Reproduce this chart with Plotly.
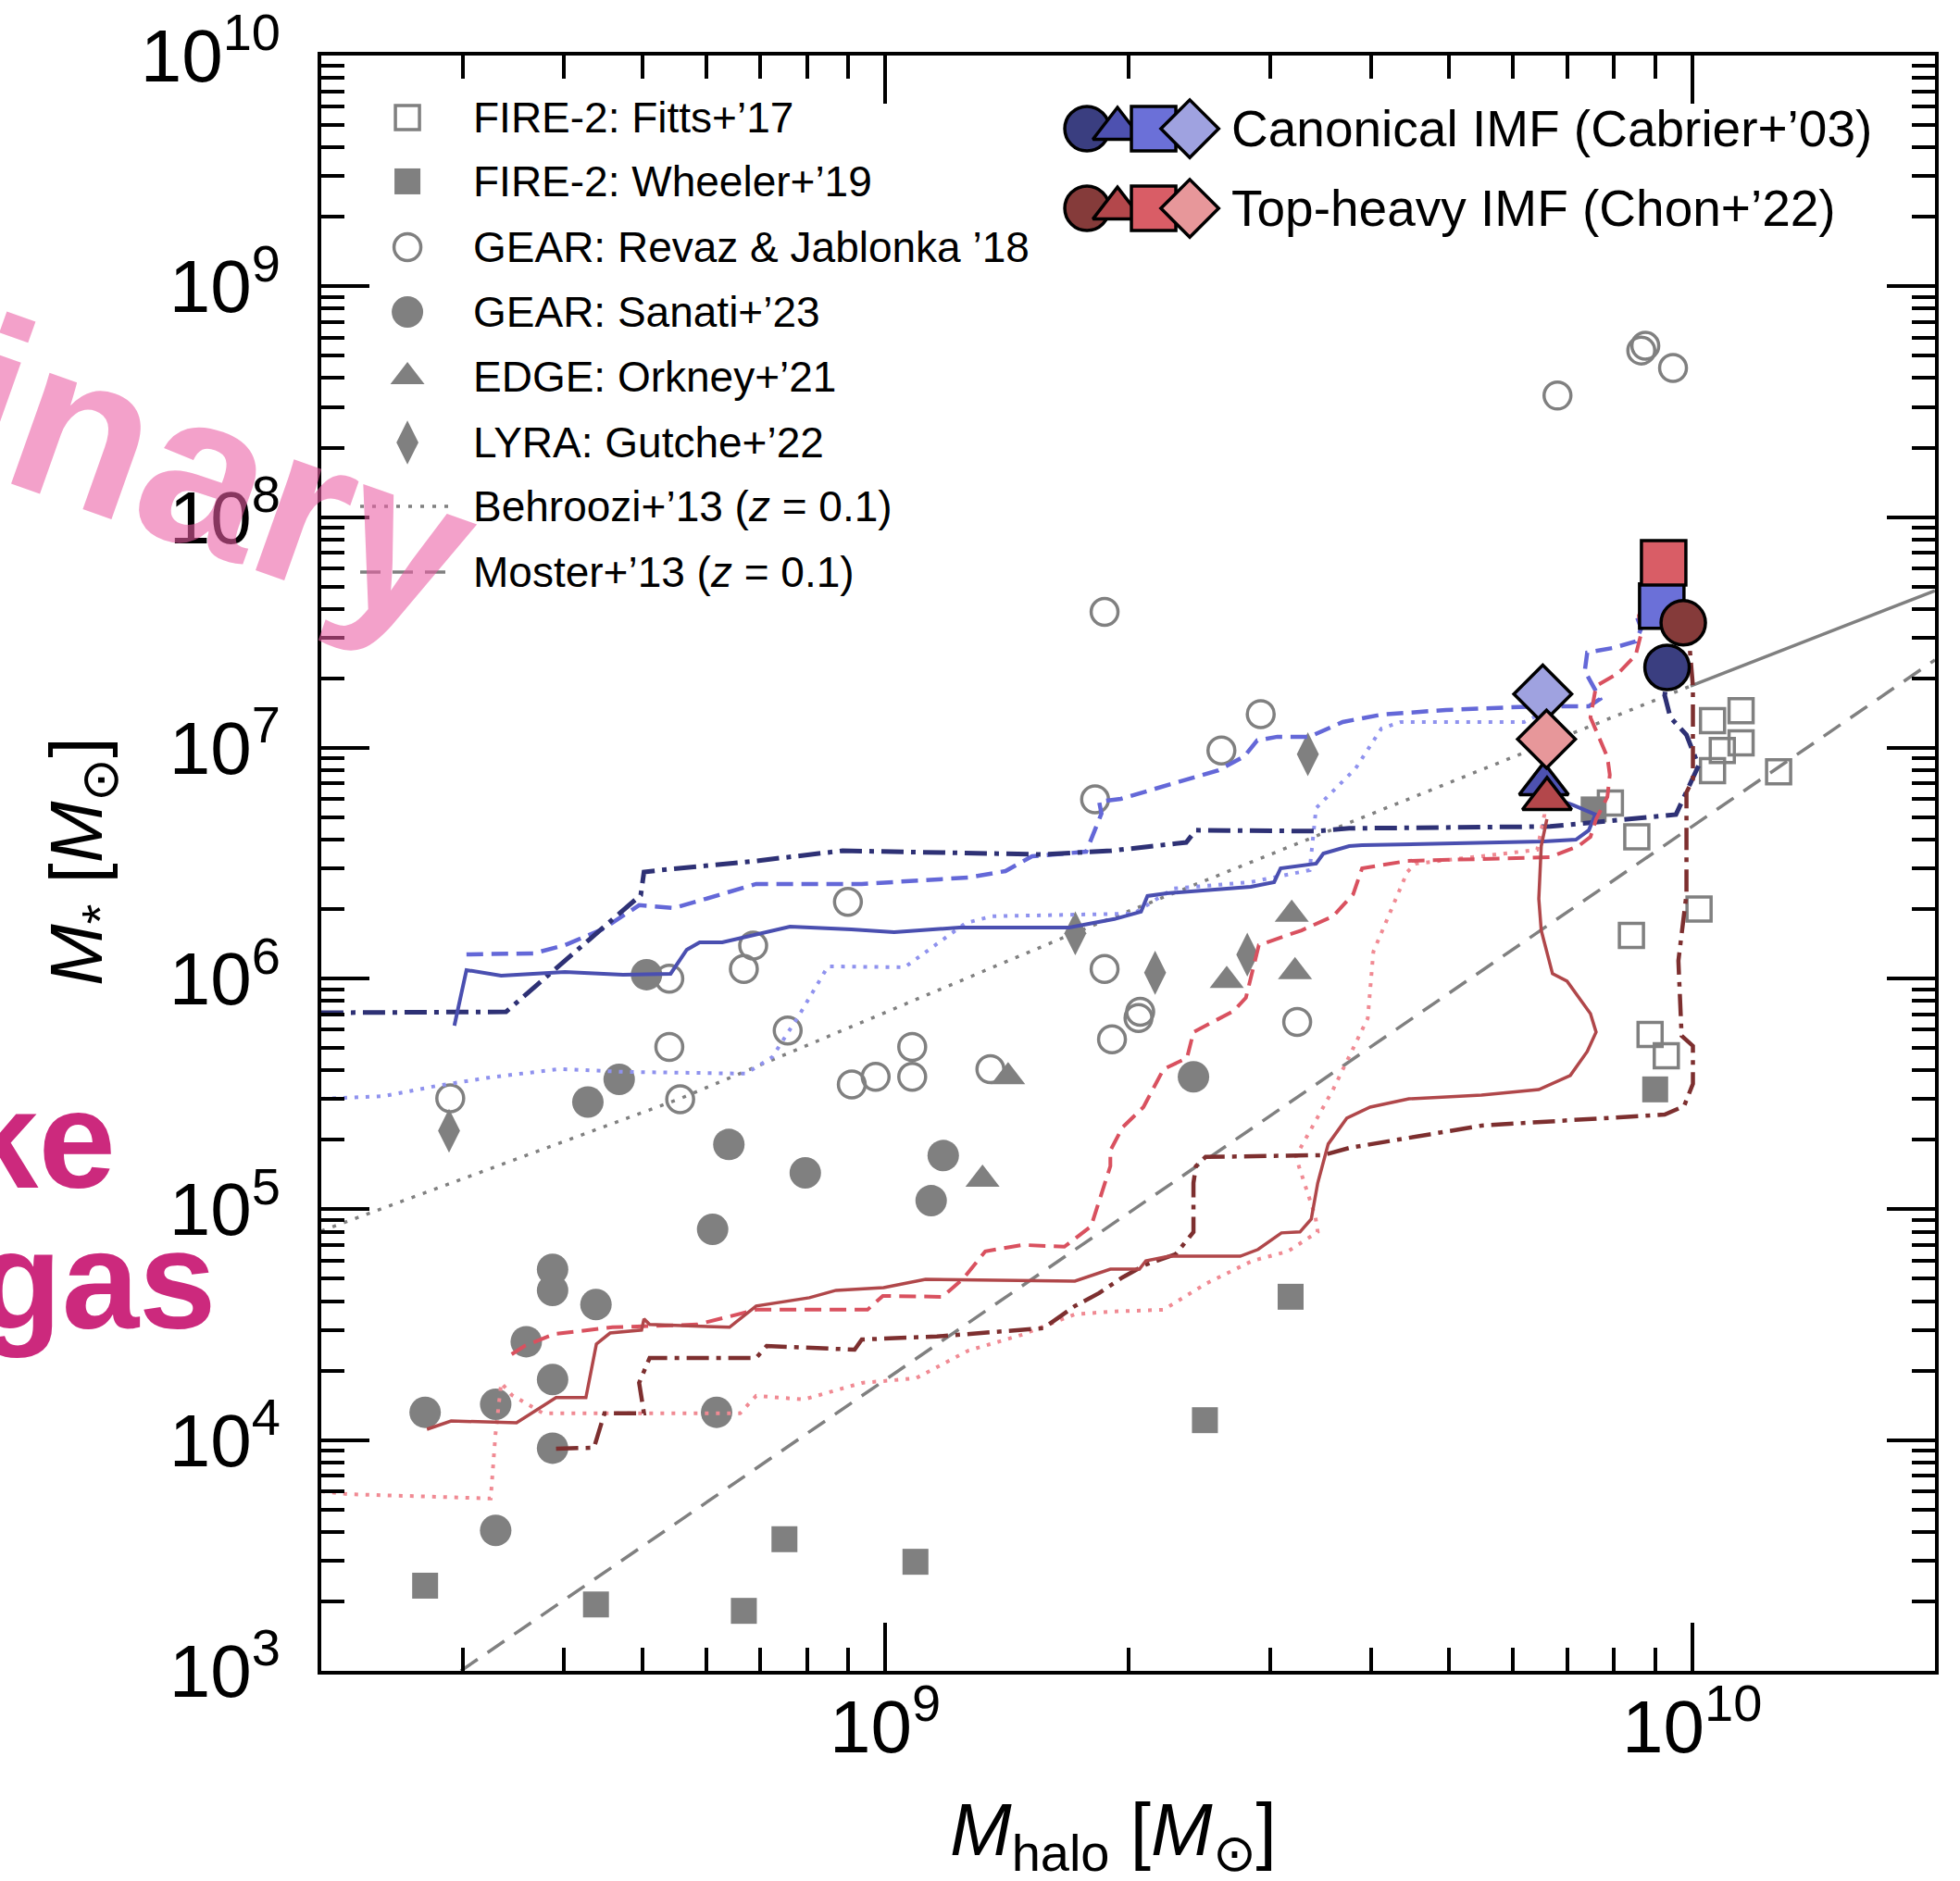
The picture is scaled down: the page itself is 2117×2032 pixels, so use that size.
import plotly.graph_objects as go

# ---------------------------------------------------------------
# Literature compilations: halo mass vs stellar mass  [Msun]
# ---------------------------------------------------------------
fitts17_mhalo = [7.92e9, 8.54e9, 1.06e10, 1.15e10, 1.09e10, 1.15e10, 1.06e10, 1.28e10,
                 1.02e10, 8.41e9, 8.87e9, 9.29e9]
fitts17_mstar = [5.77e6, 4.11e6, 1.31e7, 1.45e7, 9.73e6, 1.05e7, 7.97e6, 7.87e6,
                 2.0e6, 1.54e6, 5.73e5, 4.63e5]

wheeler19_mhalo = [2.69e8, 4.38e8, 6.68e8, 7.5e8, 1.09e9, 3.18e9, 2.49e9, 9.0e9, 7.55e9]
wheeler19_mstar = [2.34e3, 1.94e3, 1.82e3, 3.72e3, 2.97e3, 4.18e4, 1.22e4, 3.31e5, 5.41e6]

revaz18_mhalo = [6.81e9, 8.65e9, 8.75e9, 9.47e9, 1.87e9, 2.92e9, 2.61e9, 1.82e9, 8.99e8,
                 6.86e8, 6.68e8, 5.40e8, 1.87e9, 5.40e8, 7.57e8, 1.08e9, 1.08e9, 9.73e8,
                 9.09e8, 1.35e9, 5.57e8, 2.89e8, 1.91e9, 2.06e9, 2.07e9, 3.24e9]
revaz18_mstar = [3.36e8, 5.27e8, 5.53e8, 4.43e8, 3.88e7, 1.40e7, 9.73e6, 5.98e6, 2.15e6,
                 1.39e6, 1.10e6, 1.0e6, 1.10e6, 5.06e5, 5.95e5, 5.06e5, 3.75e5, 3.75e5,
                 3.48e5, 4.05e5, 3.0e5, 3.03e5, 5.46e5, 6.75e5, 7.18e5, 6.49e5]

sanati23_mhalo = [5.06e8, 4.68e8, 4.28e8, 6.4e8, 7.96e8, 1.18e9, 1.14e9, 6.11e8, 3.87e8,
                  3.87e8, 4.38e8, 3.59e8, 3.87e8, 3.29e8, 2.69e8, 6.18e8, 3.87e8, 3.29e8,
                  2.41e9]
sanati23_mstar = [1.04e6, 3.66e5, 2.92e5, 1.91e5, 1.44e5, 1.71e5, 1.09e5, 8.19e4, 5.5e4,
                  4.45e4, 3.87e4, 2.67e4, 1.83e4, 1.43e4, 1.32e4, 1.32e4, 9.23e3, 4.06e3,
                  3.75e5]

orkney21_mhalo = [3.19e9, 2.65e9, 3.22e9, 1.42e9, 1.32e9]
orkney21_mstar = [1.90e6, 9.8e5, 1.07e6, 3.75e5, 1.35e5]

gutcke22_mhalo = [2.88e8, 1.72e9, 3.34e9, 2.16e9, 2.81e9]
gutcke22_mstar = [2.19e5, 1.57e6, 9.38e6, 1.06e6, 1.27e6]

# Abundance-matching relations at z = 0.1 (log10 Msun)
behroozi_log_mhalo = [8.301, 8.746, 9.234, 9.998]
behroozi_log_mstar = [4.906, 5.480, 6.197, 7.268]
behroozi_ext_log_mhalo = [9.998, 10.301]
behroozi_ext_log_mstar = [7.268, 7.681]
moster_log_mhalo = [8.474, 10.301]
moster_log_mstar = [3.0, 7.381]

# ---------------------------------------------------------------
# Simulated galaxies: final (M_halo, M_star) of each run  [Msun]
# order: circle, triangle, square, diamond
# ---------------------------------------------------------------
canonical_mhalo = [9.31e9, 6.55e9, 9.17e9, 6.53e9]
canonical_mstar = [2.23e7, 6.97e6, 4.11e7, 1.71e7]
topheavy_mhalo = [9.75e9, 6.61e9, 9.22e9, 6.60e9]
topheavy_mstar = [3.48e7, 6.01e6, 6.34e7, 1.09e7]

# Assembly histories of each run (log10 Msun)
can_solid_lx = [8.466, 8.481, 8.524, 8.603, 8.675, 8.734, 8.754, 8.770, 8.798, 8.840, 8.882,
                8.958, 9.011, 9.092, 9.228, 9.284, 9.317, 9.325, 9.349, 9.453, 9.482, 9.490,
                9.534, 9.543, 9.575, 9.591, 9.816, 9.856, 9.872, 9.880, 9.853, 9.816]
can_solid_ly = [5.796, 6.037, 6.013, 6.029, 6.017, 6.021, 6.125, 6.157, 6.157, 6.189, 6.225,
                6.213, 6.201, 6.221, 6.221, 6.258, 6.290, 6.358, 6.370, 6.398, 6.418, 6.478,
                6.498, 6.542, 6.574, 6.578, 6.594, 6.602, 6.643, 6.711, 6.751, 6.799]

can_dashed_lx = [8.481, 8.564, 8.603, 8.649, 8.695, 8.738, 8.774, 8.840, 8.971, 9.103, 9.149,
                 9.182, 9.249, 9.268, 9.265, 9.292, 9.413, 9.445, 9.461, 9.486, 9.526, 9.567,
                 9.615, 9.695, 9.808, 9.872, 9.886, 9.867, 9.870, 9.902, 9.930, 9.937, 9.931,
                 9.951]
can_dashed_ly = [6.105, 6.109, 6.145, 6.213, 6.318, 6.306, 6.342, 6.410, 6.410, 6.438, 6.466,
                 6.530, 6.550, 6.715, 6.767, 6.779, 6.903, 6.963, 7.032, 7.048, 7.048, 7.112,
                 7.144, 7.164, 7.180, 7.180, 7.212, 7.333, 7.413, 7.433, 7.461, 7.517, 7.573,
                 7.609]

can_dotted_lx = [8.301, 8.379, 8.444, 8.511, 8.596, 8.675, 8.827, 8.860, 8.893, 8.929, 9.024,
                 9.100, 9.132, 9.308, 9.357, 9.453, 9.526, 9.534, 9.583, 9.615, 9.639, 9.792,
                 9.815]
can_dotted_ly = [5.479, 5.491, 5.535, 5.572, 5.608, 5.596, 5.588, 5.660, 5.840, 6.053, 6.049,
                 6.241, 6.270, 6.282, 6.390, 6.418, 6.470, 6.739, 6.911, 7.084, 7.112, 7.112,
                 7.152]

can_dashdot_lx = [8.301, 8.530, 8.697, 8.701, 8.721, 8.840, 8.947, 9.103, 9.196, 9.280, 9.373,
                  9.385, 9.534, 9.575, 9.824, 9.980, 10.008, 9.993, 9.973, 9.966, 9.969]
can_dashdot_ly = [5.852, 5.856, 6.362, 6.462, 6.470, 6.510, 6.554, 6.542, 6.538, 6.554, 6.590,
                  6.643, 6.639, 6.651, 6.659, 6.711, 6.923, 7.056, 7.132, 7.228, 7.292]

top_solid_lx = [8.432, 8.462, 8.543, 8.592, 8.629, 8.642, 8.659, 8.698, 8.701, 8.708, 8.807,
                8.840, 8.906, 8.939, 8.998, 9.050, 9.235, 9.279, 9.315, 9.323, 9.352, 9.440,
                9.462, 9.491, 9.514, 9.528, 9.536, 9.549, 9.572, 9.601, 9.649, 9.739, 9.810,
                9.849, 9.870, 9.881, 9.874, 9.845, 9.827, 9.813, 9.810, 9.813, 9.820]
top_solid_ly = [4.047, 4.083, 4.075, 4.184, 4.184, 4.416, 4.464, 4.477, 4.525, 4.501, 4.489,
                4.581, 4.617, 4.649, 4.661, 4.697, 4.689, 4.741, 4.741, 4.777, 4.797, 4.797,
                4.826, 4.898, 4.902, 4.958, 5.114, 5.283, 5.395, 5.443, 5.479, 5.495, 5.519,
                5.580, 5.684, 5.768, 5.848, 5.989, 6.021, 6.209, 6.346, 6.574, 6.691]

top_dashed_lx = [8.537, 8.553, 8.590, 8.662, 8.767, 8.840, 8.978, 8.997, 9.071, 9.097, 9.124,
                 9.170, 9.222, 9.255, 9.279, 9.279, 9.294, 9.320, 9.345, 9.374, 9.382, 9.432,
                 9.447, 9.463, 9.516, 9.555, 9.580, 9.591, 9.647, 9.824, 9.859, 9.874, 9.881,
                 9.895, 9.898, 9.895, 9.874, 9.881, 9.909, 9.930, 9.937, 9.934, 9.944]
top_dashed_ly = [4.372, 4.408, 4.460, 4.489, 4.501, 4.565, 4.565, 4.625, 4.621, 4.701, 4.818,
                 4.846, 4.838, 4.926, 5.187, 5.255, 5.355, 5.443, 5.608, 5.656, 5.768, 5.860,
                 5.917, 6.145, 6.209, 6.270, 6.366, 6.478, 6.510, 6.526, 6.574, 6.614, 6.691,
                 6.787, 6.883, 6.960, 7.132, 7.268, 7.325, 7.401, 7.497, 7.573, 7.649]

top_dotted_lx = [8.301, 8.333, 8.511, 8.517, 8.524, 8.537, 8.576, 8.656, 8.820, 8.840, 8.899,
                 8.971, 9.038, 9.103, 9.170, 9.235, 9.280, 9.345, 9.397, 9.455, 9.499, 9.536,
                 9.533, 9.513, 9.509, 9.555, 9.598, 9.605, 9.647, 9.657, 9.808, 9.817, 9.819]
top_dotted_ly = [3.778, 3.766, 3.747, 4.027, 4.248, 4.196, 4.116, 4.116, 4.116, 4.192, 4.176,
                 4.248, 4.268, 4.388, 4.457, 4.545, 4.557, 4.565, 4.677, 4.777, 4.818, 4.902,
                 4.970, 5.183, 5.231, 5.519, 5.828, 6.117, 6.462, 6.498, 6.558, 6.711, 6.911]

top_dashdot_lx = [8.592, 8.639, 8.652, 8.701, 8.695, 8.708, 8.840, 8.853, 8.962, 8.971, 9.064,
                  9.196, 9.209, 9.235, 9.265, 9.294, 9.323, 9.360, 9.382, 9.382, 9.385, 9.397,
                  9.543, 9.576, 9.739, 9.966, 9.990, 10.001, 10.001, 9.987, 9.983, 9.993,
                  9.993, 10.001, 10.001, 9.997]
top_dashdot_ly = [3.963, 3.967, 4.116, 4.116, 4.248, 4.356, 4.356, 4.408, 4.392, 4.436, 4.449,
                  4.485, 4.517, 4.581, 4.637, 4.705, 4.761, 4.806, 4.902, 5.114, 5.187, 5.227,
                  5.235, 5.267, 5.363, 5.411, 5.447, 5.544, 5.708, 5.752, 6.077, 6.366,
                  6.807, 6.863, 7.268, 7.433]

# Axis ticks
x_tick_vals = [1e9, 1e10]
x_tick_text = ["10<sup>9</sup>", "10<sup>10</sup>"]
y_tick_vals = [1e3, 1e4, 1e5, 1e6, 1e7, 1e8, 1e9, 1e10]
y_tick_text = ["10<sup>%d</sup>" % p for p in range(3, 11)]

# Legend entries
obs_labels = ["FIRE-2: Fitts+’17", "FIRE-2: Wheeler+’19", "GEAR: Revaz &amp; Jablonka ’18",
              "GEAR: Sanati+’23", "EDGE: Orkney+’21", "LYRA: Gutche+’22",
              "Behroozi+’13 (<i>z</i> = 0.1)", "Moster+’13 (<i>z</i> = 0.1)"]
imf_labels = ["Canonical IMF (Cabrier+’03)", "Top-heavy IMF (Chon+’22)"]

# ---------------------------------------------------------------
GRAY = "#808080"
BLUE = {"circle": "#3a3e80", "triangle": "#4d51b0", "square": "#6b70d8", "diamond": "#9fa2e0"}
RED = {"circle": "#853b3a", "triangle": "#b3474b", "square": "#d95d66", "diamond": "#e7979a"}
BLUE_LINE = {"dashdot": "#2e3175", "solid": "#4a4fb0", "dash": "#6468d8", "dot": "#8f92ee"}
RED_LINE = {"dashdot": "#7d2f2f", "solid": "#b0474a", "dash": "#d9515f", "dot": "#f08a93"}
DASH = {"solid": "solid", "dash": "18px,9px", "dot": "4px,8px", "dashdot": "24px,8px,5px,8px"}
TEXT_FONT = "Liberation Sans"

fig = go.Figure()


def pw(vals):
    return [10 ** v for v in vals]


def line(lx, ly, color, dash, width=4.0):
    fig.add_trace(go.Scatter(x=pw(lx), y=pw(ly), mode="lines",
                             line=dict(color=color, width=width, dash=dash),
                             hoverinfo="skip", showlegend=False))


def points(x, y, symbol, size, filled, xa="x", ya="y"):
    if filled:
        mk = dict(symbol=symbol, size=size, color=GRAY, line=dict(width=0))
    else:
        mk = dict(symbol=symbol + "-open", size=size, color=GRAY, line=dict(width=3.5, color=GRAY))
    fig.add_trace(go.Scatter(x=x, y=y, mode="markers", marker=mk, xaxis=xa, yaxis=ya,
                             hoverinfo="skip", showlegend=False))


# abundance matching relations
line(behroozi_log_mhalo, behroozi_log_mstar, GRAY, "4px,9px", 3.5)
line(behroozi_ext_log_mhalo, behroozi_ext_log_mstar, GRAY, "solid", 3.5)
line(moster_log_mhalo, moster_log_mstar, GRAY, "22px,13px", 3.5)

# literature points
points(fitts17_mhalo, fitts17_mstar, "square", 26, False)
points(wheeler19_mhalo, wheeler19_mstar, "square", 28, True)
points(revaz18_mhalo, revaz18_mstar, "circle", 29, False)
points(sanati23_mhalo, sanati23_mstar, "circle", 34, True)
points(orkney21_mhalo, orkney21_mstar, "triangle-up", 32, True)
points(gutcke22_mhalo, gutcke22_mstar, "diamond-tall", 34, True)

# assembly histories
line(can_dotted_lx, can_dotted_ly, BLUE_LINE["dot"], DASH["dot"], 4)
line(can_dashed_lx, can_dashed_ly, BLUE_LINE["dash"], DASH["dash"], 4.5)
line(can_dashdot_lx, can_dashdot_ly, BLUE_LINE["dashdot"], DASH["dashdot"], 5)
line(can_solid_lx, can_solid_ly, BLUE_LINE["solid"], DASH["solid"], 4)
line(top_dotted_lx, top_dotted_ly, RED_LINE["dot"], DASH["dot"], 4)
line(top_dashed_lx, top_dashed_ly, RED_LINE["dash"], DASH["dash"], 4)
line(top_dashdot_lx, top_dashdot_ly, RED_LINE["dashdot"], DASH["dashdot"], 4.5)
line(top_solid_lx, top_solid_ly, RED_LINE["solid"], DASH["solid"], 3.5)

SYMBOLS = ["circle", "triangle", "square", "diamond"]
PLOTLY_SYM = {"circle": "circle", "triangle": "triangle-up", "square": "square", "diamond": "diamond"}
BIG_SIZE = {"circle": 48, "triangle": 46, "square": 48, "diamond": 48}

for mh, ms, pal in [(canonical_mhalo, canonical_mstar, BLUE), (topheavy_mhalo, topheavy_mstar, RED)]:
    for i, s in enumerate(SYMBOLS):
        fig.add_trace(go.Scatter(
            x=[mh[i]], y=[ms[i]], mode="markers",
            marker=dict(symbol=PLOTLY_SYM[s], size=BIG_SIZE[s], color=pal[s],
                        line=dict(color="black", width=3.5)),
            hoverinfo="skip", showlegend=False))

# ---------------------------------------------------------------
# Hand-drawn legends on an overlay [0, 1] x [0, 1] frame
# ---------------------------------------------------------------
leg_marker_x = 0.0534
leg_text_x = 0.0929
leg_rows = [0.9616, 0.9221, 0.8814, 0.8413, 0.8011, 0.7605, 0.7209, 0.6802]
leg_styles = [("square", 26, False), ("square", 28, True), ("circle", 29, False),
              ("circle", 34, True), ("triangle-up", 32, True), ("diamond-tall", 34, True)]
for (sym, size, filled), yy in zip(leg_styles, leg_rows[:6]):
    points([leg_marker_x], [yy], sym, size, filled, xa="x2", ya="y2")

for yy, dash in [(leg_rows[6], "4px,9px"), (leg_rows[7], "22px,13px")]:
    fig.add_trace(go.Scatter(x=[0.0241, 0.0826], y=[yy, yy], mode="lines",
                             line=dict(color=GRAY, width=3.5, dash=dash),
                             xaxis="x2", yaxis="y2", hoverinfo="skip", showlegend=False))

annotations = []
for lab, yy in zip(obs_labels, leg_rows):
    annotations.append(dict(x=leg_text_x, y=yy, xref="paper", yref="paper", text=lab,
                            showarrow=False, xanchor="left", yanchor="middle",
                            font=dict(family=TEXT_FONT, size=46, color="black")))

imf_marker_x = [0.4745, 0.4934, 0.5158, 0.5382]
imf_rows = [0.9547, 0.9054]
for pal, yy in zip([BLUE, RED], imf_rows):
    for s, xx in zip(SYMBOLS, imf_marker_x):
        fig.add_trace(go.Scatter(
            x=[xx], y=[yy], mode="markers", xaxis="x2", yaxis="y2",
            marker=dict(symbol=PLOTLY_SYM[s], size=BIG_SIZE[s], color=pal[s],
                        line=dict(color="black", width=3.5)),
            hoverinfo="skip", showlegend=False))
for lab, yy in zip(imf_labels, imf_rows):
    annotations.append(dict(x=0.5628, y=yy, xref="paper", yref="paper", text=lab,
                            showarrow=False, xanchor="left", yanchor="middle",
                            font=dict(family=TEXT_FONT, size=55, color="black")))

# axis titles
annotations.append(dict(x=0.491, y=-0.1015, xref="paper", yref="paper",
                        text="<i>M</i><sub>halo</sub> [<i>M</i><sub>⊙</sub>]",
                        showarrow=False, xanchor="center", yanchor="middle",
                        font=dict(family=TEXT_FONT, size=80, color="black")))
annotations.append(dict(x=-0.1486, y=0.5014, xref="paper", yref="paper",
                        text="<i>M</i><sub>*</sub> [<i>M</i><sub>⊙</sub>]", textangle=-90,
                        showarrow=False, xanchor="center", yanchor="middle",
                        font=dict(family=TEXT_FONT, size=80, color="black")))

# slide overlay texts
annotations.append(dict(x=-0.126, y=0.329, xref="paper", yref="paper", text="<b>ke</b>",
                        showarrow=False, xanchor="right", yanchor="middle",
                        font=dict(family=TEXT_FONT, size=150, color="#cc297d")))
annotations.append(dict(x=-0.064, y=0.2418, xref="paper", yref="paper", text="<b>gas</b>",
                        showarrow=False, xanchor="right", yanchor="middle",
                        font=dict(family=TEXT_FONT, size=150, color="#cc297d")))
annotations.append(dict(x=-0.2645, y=0.8109, xref="paper", yref="paper", text="<b>Preliminary</b>",
                        textangle=19.5, showarrow=False, xanchor="center", yanchor="middle",
                        font=dict(family=TEXT_FONT, size=240, color="rgba(235,93,164,0.58)")))

minor_x = [d * 10 ** e for e in range(8, 11) for d in range(2, 10)]
minor_y = [d * 10 ** e for e in range(3, 10) for d in range(2, 10)]

axis_common = dict(type="log", showgrid=False, zeroline=False, showline=True,
                   linecolor="black", linewidth=4, mirror="allticks", automargin=False,
                   ticks="inside", ticklen=52, tickwidth=3.5, tickcolor="black",
                   tickfont=dict(family=TEXT_FONT, size=80, color="black"))

fig.update_layout(
    template="none",
    width=2117, height=2032,
    margin=dict(l=347, r=27, t=60, b=227, pad=0),
    paper_bgcolor="white", plot_bgcolor="white",
    showlegend=False,
    xaxis=dict(range=[8.30103, 10.30103], tickmode="array", tickvals=x_tick_vals,
               ticktext=x_tick_text, ticklabelstandoff=-12,
               minor=dict(tickmode="array", tickvals=minor_x, ticks="inside", ticklen=25,
                          tickwidth=3.5, tickcolor="black", showgrid=False),
               **axis_common),
    yaxis=dict(range=[3, 10], tickmode="array", tickvals=y_tick_vals, ticktext=y_tick_text,
               ticklabelstandoff=24,
               minor=dict(tickmode="array", tickvals=minor_y, ticks="inside", ticklen=25,
                          tickwidth=3.5, tickcolor="black", showgrid=False),
               **axis_common),
    xaxis2=dict(overlaying="x", range=[0, 1], visible=False, showgrid=False, zeroline=False),
    yaxis2=dict(overlaying="y", range=[0, 1], visible=False, showgrid=False, zeroline=False),
    annotations=annotations,
)

fig.write_html("out.html")
